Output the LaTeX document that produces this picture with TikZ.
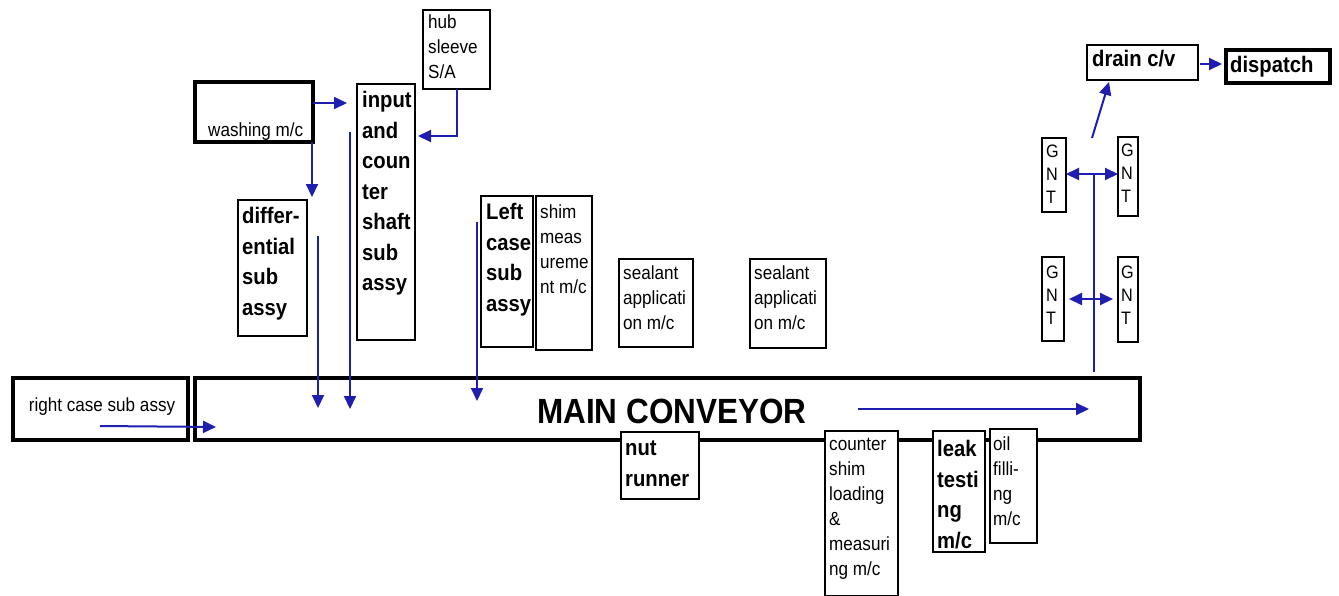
\documentclass[tikz,border=0pt]{standalone}
\usepackage{fontspec}
\setmainfont{Liberation Sans}
\newfontfamily\lab[FakeStretch=0.9]{Liberation Sans}
\usetikzlibrary{arrows.meta}
\definecolor{ablue}{RGB}{30,30,175}
\tikzset{
  thinbox/.style={draw, line width=1.5pt, inner sep=0pt, outer sep=0pt, anchor=north west},
  thickbox/.style={draw, line width=4.5pt, inner sep=0pt, outer sep=0pt, anchor=north west},
  sm/.style={font=\lab\fontsize{19}{25}\selectfont, align=left, inner sep=0pt, anchor=north west},
  bd/.style={font=\lab\bfseries\fontsize{22.5}{30.5}\selectfont, align=left, inner sep=0pt, anchor=north west},
  gt/.style={font=\lab\fontsize{18}{23}\selectfont, align=left, inner sep=0pt, anchor=north west},
  arr/.style={draw=ablue, line width=2pt, -{Triangle[length=13pt,width=12pt]}},
  dbl/.style={draw=ablue, line width=2pt, {Triangle[length=13pt,width=12pt]}-{Triangle[length=13pt,width=12pt]}},
  pln/.style={draw=ablue, line width=2pt}
}
\begin{document}
\begin{tikzpicture}[x=1pt,y=-1pt]
\useasboundingbox[fill=white] (0,0) rectangle (1339,595);
% boxes
\node[thickbox, minimum width=118pt, minimum height=60pt] (wash) at (195,82) {};
\node[thinbox, minimum width=67pt, minimum height=79pt] (hub) at (423,10) {};
\node[thinbox, minimum width=58pt, minimum height=256pt] (inp) at (357,84) {};
\node[thinbox, minimum width=69pt, minimum height=136pt] (diff) at (238,200) {};
\node[thinbox, minimum width=52pt, minimum height=151pt] (left) at (481,196) {};
\node[thinbox, minimum width=56pt, minimum height=154pt] (shim) at (536,196) {};
\node[thinbox, minimum width=74pt, minimum height=88pt] (seal1) at (619,259) {};
\node[thinbox, minimum width=76pt, minimum height=89pt] (seal2) at (750,259) {};
\node[thickbox, minimum width=945pt, minimum height=62pt] (main) at (195,378) {};
\node[thickbox, minimum width=175pt, minimum height=62pt] (rc) at (13,378) {};
\node[thinbox, minimum width=78pt, minimum height=67pt, fill=white] (nut) at (621,432) {};
\node[thinbox, minimum width=73pt, minimum height=165pt, fill=white] (csl) at (825,431) {};
\node[thinbox, minimum width=52pt, minimum height=121pt, fill=white] (leak) at (933,431) {};
\node[thinbox, minimum width=47pt, minimum height=114pt, fill=white] (oil) at (990,429) {};
\node[thinbox, minimum width=24pt, minimum height=74pt] (g1) at (1042,138) {};
\node[thinbox, minimum width=20pt, minimum height=79pt] (g2) at (1118,137) {};
\node[thinbox, minimum width=22pt, minimum height=84pt] (g3) at (1042,257) {};
\node[thinbox, minimum width=20pt, minimum height=85pt] (g4) at (1118,257) {};
\node[thinbox, minimum width=111pt, minimum height=35pt] (drain) at (1087,45) {};
\node[thickbox, minimum width=104pt, minimum height=33pt] (disp) at (1226,50) {};
% texts
\node[sm, anchor=base west] (washT) at (208,136) {washing m/c};
\node[sm] (hubT) at ([shift={(5,5)}]hub.north west) {hub\\sleeve\\S/A};
\node[bd] (inpT) at ([shift={(5,7)}]inp.north west) {input\\and\\coun\\ter\\shaft\\sub\\assy};
\node[bd] (diffT) at ([shift={(4,7)}]diff.north west) {differ-\\ential\\sub\\assy};
\node[bd] (leftT) at ([shift={(5,7)}]left.north west) {Left\\case\\sub\\assy};
\node[sm] (shimT) at ([shift={(4,9)}]shim.north west) {shim\\meas\\ureme\\nt m/c};
\node[sm] (seal1T) at ([shift={(4,7)}]seal1.north west) {sealant\\applicati\\on m/c};
\node[sm] (seal2T) at ([shift={(4,7)}]seal2.north west) {sealant\\applicati\\on m/c};
\node[font=\lab\bfseries\fontsize{35}{40}\selectfont, inner sep=0pt, anchor=base] (mainT) at (672,423) {MAIN CONVEYOR};
\node[sm, anchor=center] (rcT) at (102,407) {right case sub assy};
\node[bd] (nutT) at ([shift={(4,9)}]nut.north west) {nut\\runner};
\node[sm] (cslT) at ([shift={(4,7)}]csl.north west) {counter\\shim\\loading\\\&\\measuri\\ng m/c};
\node[bd] (leakT) at ([shift={(4,9)}]leak.north west) {leak\\testi\\ng\\m/c};
\node[sm] (oilT) at ([shift={(3,8)}]oil.north west) {oil\\filli-\\ng\\m/c};
\node[gt] (g1T) at ([shift={(4,7)}]g1.north west) {G\\N\\T};
\node[gt] (g2T) at ([shift={(3,7)}]g2.north west) {G\\N\\T};
\node[gt] (g3T) at ([shift={(4,9)}]g3.north west) {G\\N\\T};
\node[gt] (g4T) at ([shift={(3,9)}]g4.north west) {G\\N\\T};
\node[bd] (drainT) at ([shift={(5,5)}]drain.north west) {drain c/v};
\node[bd, anchor=west] (dispT) at ([xshift=4pt]disp.west) {dispatch};
% coordinates
\coordinate (d1) at (318,236);
\coordinate (i1) at (350,132);
\coordinate (l1) at (477,222);
\coordinate (r1) at (100,426);
\coordinate (r2) at (216,427);
\coordinate (m1) at (858,409);
\coordinate (m2) at (1089,409);
\coordinate (v1) at (1094,372);
\coordinate (v2) at (1094,174);
\coordinate (a1) at (1092,138);
\coordinate (a2) at (1109,82);
% connectors
\draw[arr, shorten >=10pt] ([yshift=9pt]wash.east) -- ([yshift=9pt]wash.east -| inp.west);
\draw[arr, shorten >=3pt] ([xshift=-1pt]wash.south east) -- ([xshift=-1pt]wash.south east |- diff.north);
\draw[arr, shorten >=3pt] (hub.south) |- ([yshift=76pt]inp.east);
\draw[arr] (d1) -- (d1 |- 0,408);
\draw[arr] (i1) -- (i1 |- 0,409);
\draw[arr] (l1) -- (l1 |- 0,401);
\draw[arr] (r1) -- (r2);
\draw[arr] (m1) -- (m2);
\draw[pln] (v1) -- (v2);
\draw[dbl] (g1.east |- v2) -- (g2.west |- v2);
\draw[dbl] ([xshift=5pt]g3.east) -- ([xshift=-5pt]g4.west |- g3.east);
\draw[arr] (a1) -- (a2);
\draw[arr] ([xshift=2pt]drain.east |- 0,64) -- ([xshift=-4pt]disp.west |- 0,64);
\end{tikzpicture}
\end{document}
